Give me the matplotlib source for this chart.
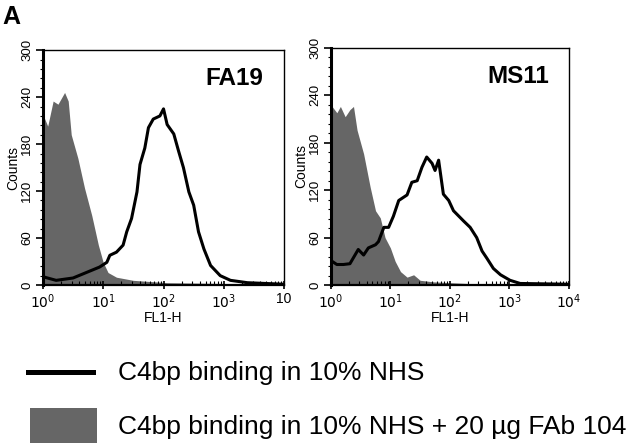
import matplotlib
matplotlib.use("Agg")
import matplotlib.pyplot as plt
from matplotlib.lines import Line2D
from matplotlib.patches import Rectangle
import numpy as np

plt.rcParams['font.family'] = ['Liberation Sans', 'DejaVu Sans']

# FL1-H positions in decades (log10) and counts
fa19_open_dec = [0.0, 0.03, 0.22, 0.5, 0.72, 0.94, 1.06, 1.11, 1.22, 1.33, 1.39, 1.47,
                 1.56, 1.61, 1.69, 1.75, 1.83, 1.94, 2.0, 2.06, 2.17, 2.25, 2.33,
                 2.42, 2.5, 2.58, 2.67, 2.78, 2.94, 3.11, 3.39, 4.0]
fa19_open_cnt = [12, 10, 6, 9, 16, 23, 29, 38, 42, 51, 68, 85,
                 119, 154, 175, 201, 212, 216, 225, 205, 193, 171, 150,
                 119, 102, 68, 46, 25, 12, 6, 3, 1]
fa19_fab_dec = [0.0, 0.08, 0.17, 0.25, 0.36, 0.42, 0.47, 0.58, 0.69, 0.81, 0.92,
                1.0, 1.08, 1.22, 1.5, 2.06, 3.0, 4.0]
fa19_fab_cnt = [218, 203, 235, 231, 246, 235, 192, 162, 124, 89, 51,
                29, 16, 10, 6, 3, 2, 1]

ms11_open_dec = [0.0, 0.02, 0.1, 0.21, 0.32, 0.46, 0.55, 0.63, 0.75, 0.8, 0.89, 0.97,
                 1.05, 1.14, 1.28, 1.36, 1.45, 1.53, 1.61, 1.7, 1.75, 1.81, 1.89,
                 1.98, 2.06, 2.23, 2.34, 2.45, 2.54, 2.62, 2.73, 2.85, 3.01, 3.18, 4.0]
ms11_open_cnt = [30, 30, 26, 26, 27, 45, 38, 47, 51, 55, 73, 73,
                 87, 107, 114, 130, 132, 149, 162, 154, 145, 158, 115,
                 107, 94, 81, 73, 60, 43, 34, 21, 13, 6, 2, 1]
ms11_fab_dec = [0.0, 0.02, 0.1, 0.16, 0.24, 0.32, 0.38, 0.44, 0.55, 0.66, 0.75, 0.83,
                0.91, 1.0, 1.08, 1.17, 1.28, 1.39, 1.5, 1.73, 2.29, 3.0, 4.0]
ms11_fab_cnt = [226, 226, 218, 226, 213, 222, 226, 196, 166, 124, 94, 85,
                60, 47, 30, 17, 10, 13, 6, 4, 2, 1, 1]

y_ticks = [0, 60, 120, 180, 240, 300]
left_xlabels = ['$10^0$', '$10^1$', '$10^2$', '$10^3$', '10']
right_xlabels = ['$10^0$', '$10^1$', '$10^2$', '$10^3$', '$10^4$']
legend_labels = ['C4bp binding in 10% NHS', 'C4bp binding in 10% NHS + 20 µg FAb 104']

fab_color = '#666666'

fig = plt.figure(figsize=(6.4, 4.44), dpi=100)
ax1 = fig.add_axes([0.067, 0.358, 0.377, 0.529])
ax2 = fig.add_axes([0.517, 0.358, 0.372, 0.534])


def draw_panel(ax, open_dec, open_cnt, fab_dec, fab_cnt, name, xlabels):
    fx = 10 ** np.array(fab_dec)
    ox = 10 ** np.array(open_dec)
    ax.fill_between(fx, fab_cnt, 0, color=fab_color, lw=0)
    ax.plot(ox, open_cnt, color='black', lw=2.2)
    ax.set_xscale('log')
    ax.set_xlim(1, 1e4)
    ax.set_ylim(0, 300)
    ax.set_xticks([1, 10, 100, 1000, 10000])
    ax.set_xticklabels(xlabels, fontsize=10)
    ax.set_yticks(y_ticks)
    ax.set_yticklabels([str(v) for v in y_ticks], rotation=90, va='center', fontsize=9.5)
    ax.set_yticks(np.arange(0, 301, 12), minor=True)
    ax.tick_params(axis='y', which='major', direction='out', length=5, width=1.2, pad=2)
    ax.tick_params(axis='y', which='minor', direction='out', length=2.5, width=0.8)
    ax.tick_params(axis='x', which='major', direction='inout', length=6, width=1.2, pad=2)
    ax.tick_params(axis='x', which='minor', direction='in', length=3, width=0.8)
    ax.set_xlabel('FL1-H', fontsize=10, labelpad=0)
    ax.set_ylabel('Counts', fontsize=10, labelpad=1)
    ax.spines['left'].set_linewidth(2.2)
    ax.spines['bottom'].set_linewidth(1.6)
    ax.spines['top'].set_linewidth(1.0)
    ax.spines['right'].set_linewidth(1.0)
    ax.text(0.915, 0.88, name, transform=ax.transAxes, ha='right', va='center',
            fontsize=17.5, fontweight='bold')


draw_panel(ax1, fa19_open_dec, fa19_open_cnt, fa19_fab_dec, fa19_fab_cnt, 'FA19', left_xlabels)
draw_panel(ax2, ms11_open_dec, ms11_open_cnt, ms11_fab_dec, ms11_fab_cnt, 'MS11', right_xlabels)

fig.text(0.003, 0.988, 'A', fontsize=18, fontweight='bold', va='top')

# legend drawn by hand to match the layout below the panels
fig.add_artist(Line2D([0.044, 0.145], [0.162, 0.162], color='black', lw=3.6,
                      transform=fig.transFigure))
fig.add_artist(Rectangle((0.047, 0.003), 0.105, 0.077, facecolor=fab_color,
                         edgecolor='none', transform=fig.transFigure))
fig.text(0.184, 0.160, legend_labels[0], fontsize=19, va='center')
fig.text(0.184, 0.038, legend_labels[1], fontsize=19, va='center')

fig.savefig('out.png', dpi=100)
